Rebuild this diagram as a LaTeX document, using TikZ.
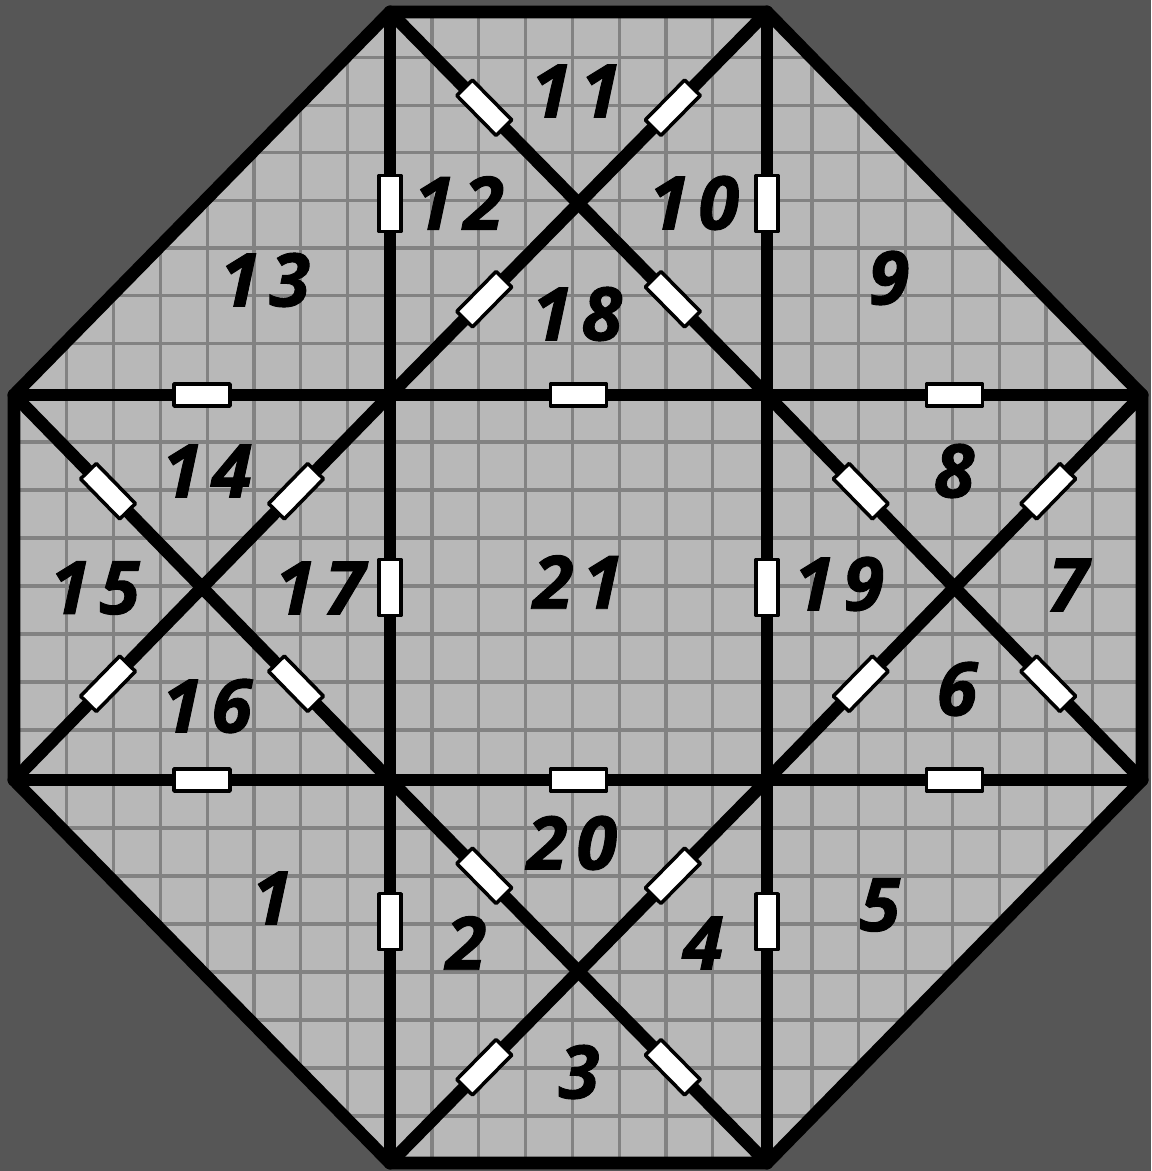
\documentclass[tikz,border=0pt]{standalone}
\usepackage{fontspec}
\newfontfamily\cellfont[LetterSpace=12, BoldItalicFeatures={FakeBold=1.3}]{Open Sans}
\definecolor{bgdark}{RGB}{86,86,86}
\definecolor{tilefill}{RGB}{184,184,184}
\definecolor{gridline}{RGB}{130,130,130}

\begin{document}
\begin{tikzpicture}[x=0.01cm, y=-0.01cm,
  wire/.style={line width=3.6pt, line join=round, line cap=round},
  res/.style={draw, line width=1pt, fill=white, inner sep=0pt, sloped,
    minimum width=0.56cm, minimum height=0.22cm},
  gridln/.style={gridline, line width=0.9pt},
  cell/.style={font=\cellfont\bfseries\itshape\fontsize{21pt}{21pt}\selectfont, inner sep=0pt}]
  \fill[bgdark] (0,0) rectangle (1151,1171);
  \useasboundingbox (0,0) rectangle (1151,1171);

  \coordinate (A1) at (390,12);
  \coordinate (A2) at (767,12);
  \coordinate (B1) at (14,395);
  \coordinate (B2) at (390,395);
  \coordinate (B3) at (767,395);
  \coordinate (B4) at (1142,395);
  \coordinate (C1) at (14,780);
  \coordinate (C2) at (390,780);
  \coordinate (C3) at (767,780);
  \coordinate (C4) at (1142,780);
  \coordinate (D1) at (390,1163);
  \coordinate (D2) at (767,1163);
  \coordinate (T) at (578.5,203.5);
  \coordinate (L) at (202,587.5);
  \coordinate (R) at (954.5,587.5);
  \coordinate (Bc) at (578.5,971.5);

  \begin{scope}
    \clip (A1) -- (A2) -- (B4) -- (C4) -- (D2) -- (D1) -- (C1) -- (B1) -- cycle;
    \fill[tilefill] (0,0) rectangle (1151,1171);
    \foreach \s in {20,385.2,765.2}
      \foreach \k in {1,...,7}
        \draw[gridln] (\s+46.8*\k,0) -- (\s+46.8*\k,1171);
    \foreach \s/\d in {10/47.6,394/48,780/48}
      \foreach \k in {1,...,7}
        \draw[gridln] (0,\s+\d*\k) -- (1151,\s+\d*\k);
  \end{scope}

  \draw[wire] (A1) -- (A2) -- (B4) -- (C4) -- (D2) -- (D1) -- (C1) -- (B1) -- cycle;
  \foreach \p/\q in {B1/B2,B2/B3,B3/B4,C1/C2,C2/C3,C3/C4,A1/B2,B2/C2,A2/B3,B3/C3,
      A1/T,T/B3,A2/T,T/B2,B1/L,L/C2,C1/L,L/B2,B3/R,R/C4,B4/R,R/C3,C2/Bc,Bc/D2,C3/Bc,Bc/D1}
    \draw[wire] (\p) -- node[res] {} (\q);
  \foreach \p/\q in {C2/D1,C3/D2}
    \draw[wire] (\p) -- node[res, pos=0.37] {} (\q);

  \node[cell] (n1) at (272,898) {1};
  \node[cell] (n2) at (466,943) {2};
  \node[cell] (n3) at (579,1072) {3};
  \node[cell] (n4) at (703,943) {4};
  \node[cell] (n5) at (880,905) {5};
  \node[cell] (n6) at (957,689) {6};
  \node[cell] (n7) at (1068,585) {7};
  \node[cell] (n8) at (954,471) {8};
  \node[cell] (n9) at (889,278) {9};
  \node[cell] (n10) at (694,203) {10};
  \node[cell] (n11) at (576,91) {11};
  \node[cell] (n12) at (459,203) {12};
  \node[cell] (n13) at (265,280) {13};
  \node[cell] (n14) at (207,471) {14};
  \node[cell] (n15) at (95,588) {15};
  \node[cell] (n16) at (207,706) {16};
  \node[cell] (n17) at (320,588) {17};
  \node[cell] (n18) at (577,314) {18};
  \node[cell] (n19) at (839,584) {19};
  \node[cell] (n20) at (572,843) {20};
  \node[cell] (n21) at (578,582) {21};
\end{tikzpicture}
\end{document}
